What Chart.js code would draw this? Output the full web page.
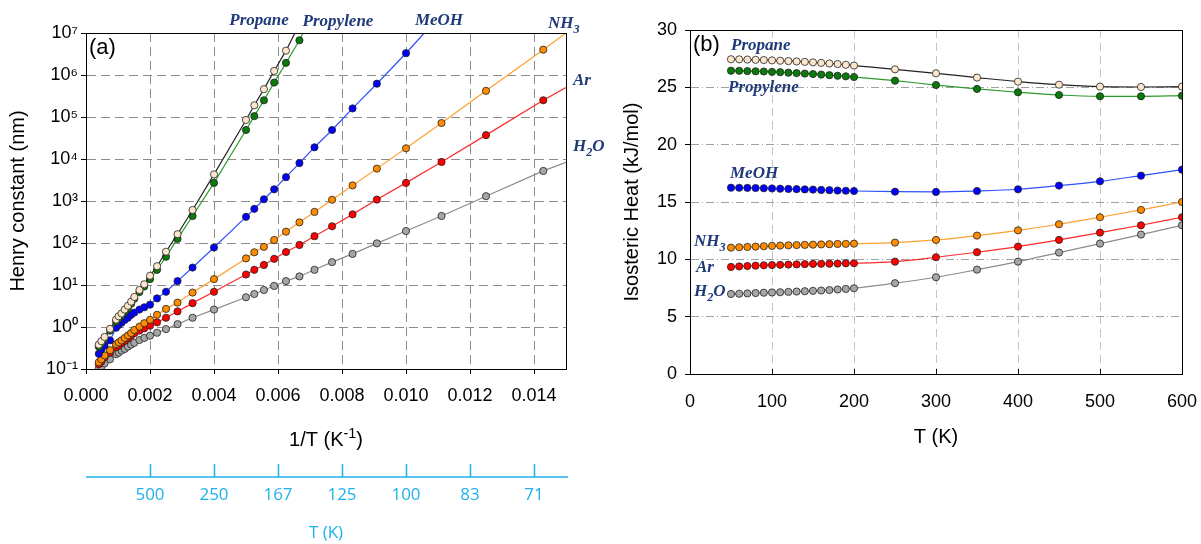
<!DOCTYPE html>
<html>
<head>
<meta charset="utf-8">
<script src="https://cdn.jsdelivr.net/npm/chart.js@4.4.0/dist/chart.umd.min.js"></script>
<style>
  body { margin: 0; background: #fff; }
  #wrap { position: relative; width: 1201px; height: 544px; }
  canvas { position: absolute; top: 0; }
  #chartA { left: 0; }
  #chartB { left: 600px; }
</style>
</head>
<body>
<div id="wrap">
  <canvas id="chartA" width="620" height="544"></canvas>
  <canvas id="chartB" width="601" height="544"></canvas>
</div>
<script>
// ---- panel (a): Henry constant vs 1/T ----
const species = ["Propane", "Propylene", "MeOH", "NH3", "Ar", "H2O"];

const invT = [0.01429, 0.0125, 0.01111, 0.01, 0.00909, 0.00833, 0.00769, 0.00714, 0.00667, 0.00625,
  0.00588, 0.00556, 0.00526, 0.005, 0.004, 0.00333, 0.00286, 0.0025, 0.00222, 0.002, 0.00182, 0.00167,
  0.00151, 0.00141, 0.00131, 0.00121, 0.00111, 0.00102, 0.00094, 0.00075, 0.00058, 0.00048, 0.0004];

const henryPropane = [null, null, null, null, null, null, null, null, null, 3.8e6,
  1.25e6, 4.6e5, 1.9e5, 8.5e4, 4.3e3, 610, 162, 62, 28, 16.6, 10.4, 7.6,
  5.2, 4.0, 3.2, 2.6, 2.1, 1.8, 1.5, 0.9, 0.58, 0.46, 0.38];
const henryPropylene = [null, null, null, null, null, null, null, null, 6.7e6, 1.95e6,
  6.6e5, 2.5e5, 1.05e5, 4.9e4, 2.7e3, 440, 125, 47, 23, 13.8, 9.2, 6.8,
  4.7, 3.6, 2.8, 2.3, 1.85, 1.6, 1.35, 0.82, 0.52, 0.41, 0.34];
const henryMeOH = [null, null, null, 3.3e6, 6.2e5, 1.6e5, 4.9e4, 1.9e4, 8.0e3, 3.7e3,
  1.9e3, 1.1e3, 650, 420, 78, 26, 12.4, 6.9, 4.8, 3.4, 2.95, 2.6,
  2.2, 1.95, 1.66, 1.47, 1.27, 1.12, 0.96, 0.48, 0.36, 0.29, 0.23];
const henryNH3 = [4.0e6, 4.2e5, 7.2e4, 1.8e4, 5.9e3, 2.35e3, 1.07e3, 550, 310, 186,
  118, 81, 60, 43, 13.8, 6.6, 3.8, 2.7, 1.95, 1.48, 1.23, 1.02,
  0.85, 0.72, 0.63, 0.55, 0.48, 0.43, 0.39, 0.28, 0.21, 0.17, 0.145];
const henryAr = [2.5e5, 3.7e4, 8.5e3, 2.7e3, 1.08e3, 480, 250, 145, 90, 61,
  42, 30, 23, 17.8, 6.9, 3.7, 2.35, 1.66, 1.29, 1.07, 0.93, 0.82,
  0.71, 0.62, 0.54, 0.47, 0.41, 0.36, 0.33, 0.245, 0.19, 0.15, 0.13];
const henryH2O = [5200, 1300, 440, 193, 98, 55, 35, 23, 16, 12.4,
  9.5, 7.6, 6.1, 5.1, 2.6, 1.66, 1.17, 0.89, 0.73, 0.62, 0.55, 0.49,
  0.42, 0.38, 0.34, 0.30, 0.275, 0.245, 0.225, 0.17, 0.136, 0.114, 0.102];

// where each fitted line leaves the plot
const lineEndX = [0.00653, 0.00678, 0.01057, 0.015, 0.015, 0.015];
const lineEndY = [1e7, 1e7, 1e7, 1e7, 5e5, 8.3e3];

const xTicksA = [0, 0.002, 0.004, 0.006, 0.008, 0.010, 0.012, 0.014];
const yTicksA = [0.1, 1, 10, 100, 1e3, 1e4, 1e5, 1e6, 1e7];
const tTickPos = [0.002, 0.004, 0.006, 0.008, 0.010, 0.012, 0.014];
const tTickLabels = ["500", "250", "167", "125", "100", "83", "71"];

// ---- panel (b): isosteric heat vs T ----
const tempK = [50, 60, 70, 80, 90, 100, 110, 120, 130, 140, 150, 160, 170, 180, 190, 200,
  250, 300, 350, 400, 450, 500, 550, 600];
const heatPropane = [27.45, 27.44, 27.42, 27.4, 27.38, 27.35, 27.32, 27.29, 27.26, 27.22, 27.18, 27.13,
  27.08, 27.03, 26.97, 26.9, 26.57, 26.22, 25.85, 25.5, 25.23, 25.06, 25.03, 25.06];
const heatPropylene = [26.45, 26.44, 26.42, 26.4, 26.38, 26.35, 26.32, 26.28, 26.24, 26.2, 26.16, 26.11,
  26.06, 26.01, 25.96, 25.9, 25.58, 25.2, 24.86, 24.57, 24.33, 24.22, 24.22, 24.27];
const heatMeOH = [16.25, 16.24, 16.23, 16.22, 16.2, 16.18, 16.16, 16.14, 16.12, 16.1, 16.08, 16.05,
  16.03, 16.0, 15.98, 15.96, 15.9, 15.88, 15.96, 16.11, 16.43, 16.8, 17.3, 17.82];
const heatNH3 = [11.02, 11.05, 11.08, 11.11, 11.14, 11.17, 11.2, 11.22, 11.24, 11.26, 11.28, 11.3,
  11.32, 11.34, 11.35, 11.37, 11.46, 11.69, 12.07, 12.53, 13.06, 13.67, 14.31, 15.0];
const heatAr = [9.34, 9.38, 9.42, 9.45, 9.48, 9.5, 9.52, 9.54, 9.56, 9.58, 9.6, 9.61,
  9.62, 9.63, 9.65, 9.66, 9.8, 10.18, 10.62, 11.11, 11.69, 12.33, 12.97, 13.67];
const heatH2O = [6.98, 7.0, 7.03, 7.06, 7.09, 7.11, 7.13, 7.16, 7.19, 7.22, 7.25, 7.28,
  7.32, 7.37, 7.42, 7.48, 7.92, 8.44, 9.1, 9.8, 10.59, 11.37, 12.16, 12.97];

const xTicksB = [0, 100, 200, 300, 400, 500, 600];
const yTicksB = [0, 5, 10, 15, 20, 25, 30];

// styles
const fillColors = ["#fde6cc", "#0a7a0a", "#0000ff", "#ff8c00", "#ff0000", "#a6a6a6"];
const lineColors = ["#222222", "#2e9a2e", "#3050ff", "#ffa033", "#ff2a2a", "#8c8c8c"];
const NAVY = "#1f3a78";
const CYAN = "#1fb1ec";
const SANS = '"Liberation Sans", Arial, sans-serif';
const SERIF = '"Liberation Serif", "DejaVu Serif", serif';

const SUP = { "-": "\u207b", "0": "\u2070", "1": "\u00b9", "2": "\u00b2", "3": "\u00b3", "4": "\u2074",
  "5": "\u2075", "6": "\u2076", "7": "\u2077", "8": "\u2078", "9": "\u2079" };
const sup = (s) => String(s).split("").map((c) => SUP[c]).join("");

// text with sub/superscript pieces: [text, shift] (1 = sub, -1 = sup)
function richWidth(ctx, parts, size, style, family) {
  let w = 0;
  parts.forEach(([t, s]) => {
    ctx.font = `${style} ${s ? size * 0.72 : size}px ${family}`;
    w += ctx.measureText(t).width;
  });
  return w;
}
function drawRich(ctx, parts, x, y, size, style, family, align) {
  let cx = x;
  if (align === "center") cx = x - richWidth(ctx, parts, size, style, family) / 2;
  ctx.textAlign = "left";
  ctx.textBaseline = "middle";
  parts.forEach(([t, s]) => {
    const fs = s ? size * 0.72 : size;
    ctx.font = `${style} ${fs}px ${family}`;
    ctx.fillText(t, cx, y + s * size * 0.32);
    cx += ctx.measureText(t).width;
  });
}

const LBL = 17;
const notesA = {
  id: "notesA",
  afterDatasetsDraw(chart) {
    const { ctx, chartArea: a } = chart;
    const xs = chart.scales.x;
    ctx.save();
    ctx.strokeStyle = "#000";
    ctx.lineWidth = 1;
    ctx.strokeRect(a.left + 0.5, a.top + 0.5, a.right - a.left, a.bottom - a.top);

    ctx.fillStyle = "#000";
    drawRich(ctx, [["(a)", 0]], 89, 48, 22, "", SANS, "left");
    drawRich(ctx, [["1/T (K", 0], ["-1", -1], [")", 0]], (a.left + a.right) / 2, 440, 20, "", SANS, "center");

    ctx.fillStyle = NAVY;
    const st = "italic bold";
    drawRich(ctx, [["Propane", 0]], 259, 21, LBL, st, SERIF, "center");
    drawRich(ctx, [["Propylene", 0]], 338, 22, LBL, st, SERIF, "center");
    drawRich(ctx, [["MeOH", 0]], 439, 21, LBL, st, SERIF, "center");
    drawRich(ctx, [["NH", 0], ["3", 1]], 548, 24, LBL, st, SERIF, "left");
    drawRich(ctx, [["Ar", 0]], 573, 81, LBL, st, SERIF, "left");
    drawRich(ctx, [["H", 0], ["2", 1], ["O", 0]], 573, 147, LBL, st, SERIF, "left");

    // secondary temperature axis
    const yLine = 477;
    ctx.strokeStyle = CYAN;
    ctx.fillStyle = CYAN;
    ctx.lineWidth = 1.5;
    ctx.beginPath();
    ctx.moveTo(a.left, yLine);
    ctx.lineTo(a.right + 2, yLine);
    tTickPos.forEach((p) => {
      const px = Math.round(xs.getPixelForValue(p)) + 0.5;
      ctx.moveTo(px, yLine - 13);
      ctx.lineTo(px, yLine);
    });
    ctx.stroke();
    ctx.textAlign = "center";
    ctx.textBaseline = "middle";
    ctx.font = `17px "Open Sans", ${SANS}`;
    tTickPos.forEach((p, i) => ctx.fillText(tTickLabels[i], xs.getPixelForValue(p), yLine + 18));
    ctx.fillText("T (K)", (a.left + a.right) / 2, 533);
    ctx.restore();
  }
};

const notesB = {
  id: "notesB",
  afterDatasetsDraw(chart) {
    const { ctx, chartArea: a } = chart;
    const xs = chart.scales.x;
    ctx.save();
    ctx.strokeStyle = "#000";
    ctx.lineWidth = 1;
    ctx.strokeRect(a.left + 0.5, a.top + 0.5, a.right - a.left, a.bottom - a.top);
    ctx.beginPath();
    xTicksB.forEach((v) => {
      const px = Math.round(xs.getPixelForValue(v)) + 0.5;
      ctx.moveTo(px, a.bottom);
      ctx.lineTo(px, a.bottom - 5);
    });
    ctx.stroke();

    ctx.fillStyle = "#000";
    drawRich(ctx, [["(b)", 0]], 93, 45, 22, "", SANS, "left");

    ctx.fillStyle = NAVY;
    const st = "italic bold";
    drawRich(ctx, [["Propane", 0]], 131, 46, LBL, st, SERIF, "left");
    drawRich(ctx, [["Propylene", 0]], 128, 88, LBL, st, SERIF, "left");
    drawRich(ctx, [["MeOH", 0]], 130, 174, LBL, st, SERIF, "left");
    drawRich(ctx, [["NH", 0], ["3", 1]], 94, 242, LBL, st, SERIF, "left");
    drawRich(ctx, [["Ar", 0]], 96, 268, LBL, st, SERIF, "left");
    drawRich(ctx, [["H", 0], ["2", 1], ["O", 0]], 94, 292, LBL, st, SERIF, "left");
    ctx.restore();
  }
};

const henryData = [henryPropane, henryPropylene, henryMeOH, henryNH3, henryAr, henryH2O];
const datasetsA = henryData.map((vals, i) => {
  const pts = invT.map((x, j) => ({ x: x, y: vals[j] })).filter((p) => p.y !== null).reverse();
  pts.push({ x: lineEndX[i], y: lineEndY[i], end: true });
  return {
    label: species[i],
    data: pts,
    borderColor: lineColors[i],
    borderWidth: 1.2,
    backgroundColor: fillColors[i],
    pointBorderColor: "#222",
    pointBorderWidth: 0.8,
    pointRadius: (c) => (c.raw && c.raw.end ? 0 : 3.6),
    tension: 0
  };
});

const heatData = [heatPropane, heatPropylene, heatMeOH, heatNH3, heatAr, heatH2O];
const datasetsB = heatData.map((vals, i) => ({
  label: species[i],
  data: tempK.map((t, j) => ({ x: t, y: vals[j] })),
  borderColor: lineColors[i],
  borderWidth: 1.2,
  backgroundColor: fillColors[i],
  pointBorderColor: "#222",
  pointBorderWidth: 0.8,
  pointRadius: 3.6,
  cubicInterpolationMode: "monotone"
}));

new Chart(document.getElementById("chartA"), {
  type: "line",
  data: { datasets: datasetsA },
  options: {
    responsive: false,
    animation: false,
    layout: { padding: { top: 33, right: 54, left: 0, bottom: 0 } },
    plugins: { legend: { display: false }, tooltip: { enabled: false } },
    scales: {
      x: {
        type: "linear",
        min: 0,
        max: 0.015,
        afterBuildTicks: (s) => { s.ticks = xTicksA.map((v) => ({ value: v })); },
        afterFit: (s) => { s.height = 175; },
        ticks: { callback: (v) => v.toFixed(3), color: "#000", font: { family: SANS, size: 18 }, padding: 11, maxRotation: 0, autoSkip: false },
        grid: { color: "#8c8c8c", tickColor: "#000", tickLength: 5 },
        border: { color: "#000", width: 1, dash: [9, 5] }
      },
      y: {
        type: "logarithmic",
        min: 0.1,
        max: 1e7,
        afterBuildTicks: (s) => { s.ticks = yTicksA.map((v) => ({ value: v })); },
        afterFit: (s) => { s.width = 86; },
        ticks: { callback: (v) => "10" + sup(Math.round(Math.log10(v))), color: "#000", font: { family: SANS, size: 18 }, padding: 3 },
        grid: { color: "#8c8c8c", tickColor: "#000", tickLength: 5 },
        border: { color: "#000", width: 1, dash: [9, 5] },
        title: { display: true, text: "Henry constant (nm)", color: "#000", font: { family: SANS, size: 20 }, padding: { top: 6, bottom: 0 } }
      }
    }
  },
  plugins: [notesA]
});

new Chart(document.getElementById("chartB"), {
  type: "line",
  data: { datasets: datasetsB },
  options: {
    responsive: false,
    animation: false,
    layout: { padding: { top: 30, right: 19, left: 0, bottom: 0 } },
    plugins: { legend: { display: false }, tooltip: { enabled: false } },
    scales: {
      x: {
        type: "linear",
        min: 0,
        max: 600,
        afterBuildTicks: (s) => { s.ticks = xTicksB.map((v) => ({ value: v })); },
        // keep the "600" label from pushing the plot edge inward
        afterFit: (s) => { s.height = 170; s.paddingRight = 0; },
        ticks: { color: "#000", font: { family: SANS, size: 18 }, padding: 17, maxRotation: 0, autoSkip: false },
        grid: { color: "#c4c4c4", drawTicks: false },
        border: { color: "#000", width: 1, dash: [8, 5] },
        title: { display: true, text: "T (K)", color: "#000", font: { family: SANS, size: 20 }, padding: { top: 0, bottom: 95 } }
      },
      y: {
        type: "linear",
        min: 0,
        max: 30,
        afterBuildTicks: (s) => { s.ticks = yTicksB.map((v) => ({ value: v })); },
        afterFit: (s) => { s.width = 90; },
        ticks: { color: "#000", font: { family: SANS, size: 18 }, padding: 8 },
        grid: { color: "#a0a0a0", tickColor: "#000", tickLength: 5 },
        border: { color: "#000", width: 1, dash: [8, 3, 1, 3] },
        title: { display: true, text: "Isosteric Heat (kJ/mol)", color: "#000", font: { family: SANS, size: 20 }, padding: { top: 20, bottom: 0 } }
      }
    }
  },
  plugins: [notesB]
});
</script>
</body>
</html>
